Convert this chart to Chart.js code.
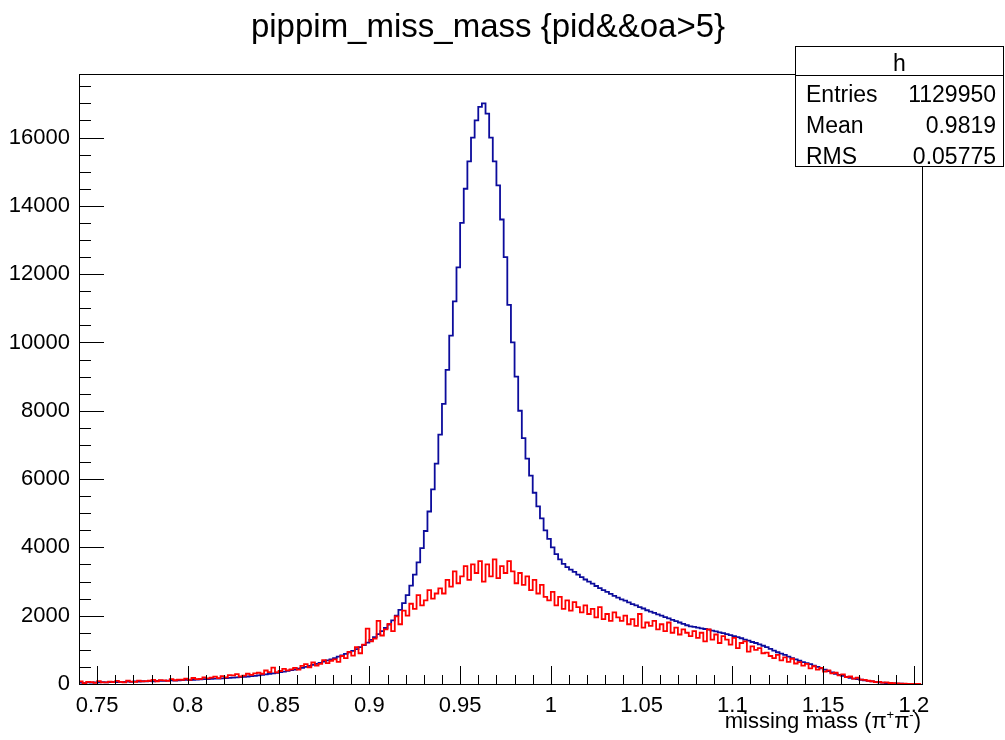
<!DOCTYPE html>
<html>
<head>
<meta charset="utf-8">
<script src="https://cdn.jsdelivr.net/npm/chart.js@4.4.1/dist/chart.umd.min.js"></script>
<style>
  body { margin: 0; background: #fff; }
  canvas { display: block; }
</style>
</head>
<body>
<canvas id="histo" width="1005" height="740"></canvas>
<script>
// histogram binning
const binStart = 0.74;
const binWidth = 0.002;

// blue histogram (counts per bin)
const blueCounts = [
  30, 40, 35, 45, 40, 50, 45, 55, 50, 55,
  60, 55, 65, 60, 70, 65, 75, 70, 80, 75,
  85, 80, 90, 95, 90, 100, 105, 100, 110, 115,
  120, 115, 125, 130, 135, 140, 145, 150, 155, 160,
  165, 170, 180, 185, 195, 200, 210, 220, 230, 240,
  255, 265, 280, 295, 310, 330, 345, 365, 385, 405,
  425, 450, 475, 500, 530, 560, 590, 620, 655, 690,
  720, 760, 800, 840, 880, 925, 970, 1020, 1080, 1140,
  1210, 1290, 1370, 1460, 1550, 1640, 1740, 1860, 2000, 2170,
  2370, 2600, 2880, 3200, 3560, 3980, 4480, 5050, 5700, 6450,
  7300, 8200, 9200, 10200, 11200, 12200, 13500, 14500, 15300, 16000,
  16500, 16900, 17000, 16700, 16000, 15300, 14600, 13600, 12500, 11100,
  10000, 9000, 8000, 7200, 6600, 6100, 5600, 5200, 4850, 4500,
  4250, 4000, 3800, 3650, 3520, 3420, 3350, 3280, 3200, 3130,
  3060, 3000, 2940, 2870, 2810, 2750, 2700, 2640, 2580, 2530,
  2480, 2440, 2390, 2340, 2300, 2250, 2210, 2160, 2120, 2080,
  2040, 2000, 1960, 1920, 1880, 1840, 1800, 1760, 1720, 1690,
  1670, 1650, 1630, 1610, 1590, 1560, 1540, 1510, 1490, 1460,
  1430, 1400, 1370, 1340, 1300, 1270, 1230, 1200, 1160, 1120,
  1080, 1030, 980, 930, 890, 850, 800, 760, 720, 680,
  640, 610, 580, 540, 500, 460, 420, 380, 340, 300,
  265, 235, 205, 180, 160, 140, 125, 105, 90, 75,
  60, 50, 40, 30, 22, 18, 12, 8, 5, 3,
  0, 0
];

// red histogram (noisy)
const redCounts = [
  40, 75, 25, 60, 55, 35, 85, 50, 45, 70,
  55, 90, 60, 50, 95, 70, 65, 100, 75, 85,
  95, 120, 80, 115, 105, 90, 140, 110, 130, 125,
  160, 125, 175, 140, 150, 195, 165, 185, 215, 170,
  230, 195, 260, 250, 290, 220, 245, 300, 265, 310,
  330, 300, 395, 350, 480, 340, 380, 445, 400, 430,
  470, 420, 530, 580, 490, 630, 540, 590, 700, 610,
  680, 720, 650, 820, 760, 940, 830, 1080, 900, 1150,
  1620, 1250, 1330, 1850, 1420, 1600, 1760, 1550, 1980, 1750,
  2150, 2000, 2350, 2200, 2600, 2300, 2450, 2750, 2500, 2650,
  2800, 2650, 3050, 2850, 3300, 2950, 3150, 3450, 3050, 3500,
  3250, 3600, 3000, 3500, 3150, 3650, 3100, 3450, 3250, 3600,
  3300, 2950, 3250, 2900, 3150, 2750, 3050, 2650, 2900, 2550,
  2450, 2700, 2300, 2550, 2200, 2450, 2150, 2400, 2250, 2100,
  2300, 2050, 2200, 1950, 2250, 1900, 2050, 1850, 2100, 1950,
  1850, 2000, 1750, 1900, 1700, 2050, 1650, 1800, 1700, 1850,
  1600, 1750, 1550, 1800, 1500, 1650, 1450, 1600, 1500, 1400,
  1550, 1350, 1500, 1250, 1600, 1300, 1450, 1200, 1400, 1300,
  1150, 1350, 1050, 1200, 1250, 950, 1100, 1000, 1050, 900,
  920, 820, 760, 850, 690, 780, 650, 740, 600, 640,
  540, 590, 460, 520, 420, 470, 360, 400, 310, 330,
  250, 280, 200, 220, 160, 185, 130, 120, 95, 80,
  55, 65, 40, 45, 30, 25, 20, 12, 8, 5,
  3, 0
];

// axis ticks
const xTicks = [0.75, 0.8, 0.85, 0.9, 0.95, 1, 1.05, 1.1, 1.15, 1.2];
const xTickLabels = ["0.75", "0.8", "0.85", "0.9", "0.95", "1", "1.05", "1.1", "1.15", "1.2"];
const yTicks = [0, 2000, 4000, 6000, 8000, 10000, 12000, 14000, 16000];

// stats box
const statsTitle = "h";
const statsRows = [["Entries", "1129950"], ["Mean", "0.9819"], ["RMS", "0.05775"]];

const FONT = '"Liberation Sans", Arial, Helvetica, sans-serif';

// bins -> points for a stepped line (lower edges + closing edge)
function toSteps(counts) {
  const pts = counts.map((c, i) => ({ x: binStart + i * binWidth, y: c }));
  pts.push({ x: binStart + counts.length * binWidth, y: counts[counts.length - 1] });
  return pts;
}

// ROOT style frame, inside ticks, titles and stats box
const rootDecor = {
  id: "rootDecor",
  afterDraw(chart) {
    const c = chart.ctx;
    const a = chart.chartArea;
    const xs = chart.scales.x, ys = chart.scales.y;
    c.save();
    c.strokeStyle = "#000";
    c.lineWidth = 1;
    c.strokeRect(a.left + 0.5, a.top + 0.5, a.right - a.left, a.bottom - a.top);

    c.beginPath();
    // x ticks, major every 0.05 and minor every 0.01
    for (let k = 74; k <= 120; k++) {
      const px = Math.round(xs.getPixelForValue(k / 100)) + 0.5;
      const len = k % 5 === 0 ? 18 : 9;
      c.moveTo(px, a.bottom);
      c.lineTo(px, a.bottom - len);
    }
    // y ticks, major every 2000 and minor every 500
    for (let k = 0; k * 500 <= ys.max; k++) {
      const py = Math.round(ys.getPixelForValue(k * 500)) + 0.5;
      const len = k % 4 === 0 ? 25 : 12;
      c.moveTo(a.left, py);
      c.lineTo(a.left + len, py);
    }
    c.stroke();

    // title
    c.fillStyle = "#000";
    c.font = "33px " + FONT;
    c.textAlign = "center";
    c.textBaseline = "alphabetic";
    c.fillText("pippim_miss_mass {pid&&oa>5}", 488, 37);

    // x axis title with superscripts
    const big = "22px " + FONT, small = "13px " + FONT;
    const parts = [["missing mass (\u03c0", big, 0], ["+", small, -9], ["\u03c0", big, 0], ["-", small, -9], [")", big, 0]];
    let w = 0;
    parts.forEach(p => { c.font = p[1]; w += c.measureText(p[0]).width; });
    let x = 921 - w;
    c.textAlign = "left";
    parts.forEach(p => {
      c.font = p[1];
      c.fillText(p[0], x, 728 + p[2]);
      x += c.measureText(p[0]).width;
    });

    // stats box
    const bx = 795, by = 46, bw = 209, bh = 121;
    c.fillStyle = "#fff";
    c.fillRect(bx, by, bw, bh);
    c.strokeRect(bx + 0.5, by + 0.5, bw - 1, bh - 1);
    c.beginPath();
    c.moveTo(bx, 75.5);
    c.lineTo(bx + bw, 75.5);
    c.stroke();
    c.fillStyle = "#000";
    c.font = "23px " + FONT;
    c.textAlign = "center";
    c.fillText(statsTitle, bx + bw / 2, 71);
    statsRows.forEach((r, i) => {
      const y = 102 + i * 31;
      c.textAlign = "left";
      c.fillText(r[0], 806, y);
      c.textAlign = "right";
      c.fillText(r[1], 996, y);
    });
    c.restore();
  }
};

new Chart(document.getElementById("histo"), {
  type: "line",
  data: {
    datasets: [
      {
        label: "red",
        data: toSteps(redCounts),
        borderColor: "#ff0000",
        borderWidth: 1.8,
        stepped: "after",
        pointRadius: 0,
        fill: false
      },
      {
        label: "h",
        data: toSteps(blueCounts),
        borderColor: "#0c0c9c",
        borderWidth: 1.8,
        stepped: "after",
        pointRadius: 0,
        fill: false
      }
    ]
  },
  options: {
    responsive: false,
    animation: false,
    layout: { padding: { top: 74, right: 83, left: 0, bottom: 0 } },
    plugins: {
      legend: { display: false },
      tooltip: { enabled: false },
      title: { display: false }
    },
    scales: {
      x: {
        type: "linear",
        min: 0.74,
        max: 1.2045,
        afterBuildTicks: s => { s.ticks = xTicks.map(v => ({ value: v })); },
        afterFit: s => { s.height = 56; },
        ticks: {
          callback: (v) => xTickLabels[xTicks.indexOf(v)],
          font: { size: 22, family: FONT },
          color: "#000",
          padding: 9,
          maxRotation: 0,
          autoSkip: false
        },
        grid: { display: false, drawTicks: false },
        border: { display: false }
      },
      y: {
        min: 0,
        max: 17860,
        afterBuildTicks: s => { s.ticks = yTicks.map(v => ({ value: v })); },
        afterFit: s => { s.width = 79; },
        ticks: {
          callback: v => String(v),
          font: { size: 22, family: FONT },
          color: "#000",
          padding: 9
        },
        grid: { display: false, drawTicks: false },
        border: { display: false }
      }
    }
  },
  plugins: [rootDecor]
});
</script>
</body>
</html>
